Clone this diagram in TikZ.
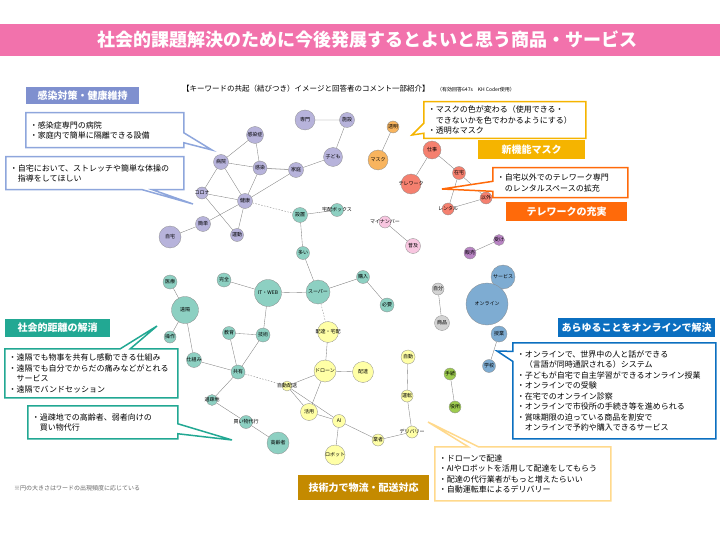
\documentclass[tikz,border=0pt]{standalone}
\usepackage{fontspec}
\setmainfont{Noto Sans CJK JP}
\usetikzlibrary{shapes.callouts}

\definecolor{titlepink}{HTML}{F272AC}
\definecolor{covidblue}{HTML}{7F90CF}
\definecolor{covidline}{HTML}{8EA6DC}
\definecolor{socteal}{HTML}{22A893}
\definecolor{maskgold}{HTML}{F5B400}
\definecolor{teleorange}{HTML}{FF6A0A}
\definecolor{onlineblue}{HTML}{0B6FC0}
\definecolor{techgold}{HTML}{C48A00}
\definecolor{delivline}{HTML}{FFD98C}
% keyword group fills
\definecolor{lavnd}{HTML}{B7B3DB}
\definecolor{tealfill}{HTML}{8DD0C2}
\definecolor{ylw}{HTML}{FFFFA6}
\definecolor{orng}{HTML}{F8B45E}
\definecolor{slmn}{HTML}{F5806F}
\definecolor{pnk}{HTML}{F8C6E0}
\definecolor{mgnt}{HTML}{B984C4}
\definecolor{lgry}{HTML}{D3D3D3}
\definecolor{blu}{HTML}{7EACD2}
\definecolor{grn}{HTML}{9DCB4E}

\newcommand{\kwl}[1]{\makebox[0pt]{#1}}

\begin{document}
\begin{tikzpicture}[x=1pt, y=-1pt,
  kw/.style={circle, draw=black!45, line width=0.3pt, inner sep=0pt, minimum size=#1, font=\fontsize{5}{5}\selectfont},
  link/.style={draw=black!50, line width=0.35pt},
  weaklink/.style={link, dash pattern=on 1.5pt off 1.5pt},
  hdbox/.style={rectangle, fill=#1, text=white, anchor=north west, inner sep=0pt, font=\bfseries\fontsize{10}{12}\selectfont},
  cbox/.style={rectangle callout, draw=#1, fill=white, line width=1.5pt, callout pointer width=10pt, anchor=north west, align=left, inner sep=4pt, font=\fontsize{8}{10.5}\selectfont}]
  \useasboundingbox (0,0) rectangle (720,540);

  % Title bar
  \fill[titlepink] (0,24) rectangle (720,56);
  \node[text=white, font=\bfseries\fontsize{18}{20}\selectfont] (title) at (367,40) {社会的課題解決のために今後発展するとよいと思う商品・サービス};
  \node[anchor=west, font=\fontsize{7.5}{9}\selectfont, inner sep=0pt] (subhead) at (182,89) {【キーワードの共起（結びつき）イメージと回答者のコメント一部紹介】};
  \node[anchor=west, font=\fontsize{5}{6}\selectfont, inner sep=0pt] (subnote) at (437,89.5) {（有効回答647s　KH Coder使用）};
  \node[anchor=west, text=black!60, font=\fontsize{6}{7}\selectfont, inner sep=0pt] (footnote) at (14,488) {※円の大きさはワードの出現頻度に応じている};

  % Network: infection / health (lavender)
  \node[kw=17pt, fill=lavnd] (kansensho) at (255,135) {\kwl{感染症}};
  \node[kw=15pt, fill=lavnd] (byoin) at (221,162) {\kwl{病院}};
  \node[kw=14pt, fill=lavnd] (kansen) at (260,168) {\kwl{感染}};
  \node[kw=15pt, fill=lavnd] (katei) at (296,170) {\kwl{家庭}};
  \node[kw=12pt, fill=lavnd] (corona) at (202,193) {\kwl{コロナ}};
  \node[kw=15pt, fill=lavnd] (kenko) at (245,201) {\kwl{健康}};
  \node[kw=15pt, fill=lavnd] (kantan) at (203,224) {\kwl{簡単}};
  \node[kw=22pt, fill=lavnd] (jitaku) at (170,237) {\kwl{自宅}};
  \node[kw=13pt, fill=lavnd] (undo) at (237,235) {\kwl{運動}};
  \node[kw=20pt, fill=lavnd] (senmon) at (305,120) {\kwl{専門}};
  \node[kw=15pt, fill=lavnd] (shisetsu) at (347,120) {\kwl{施設}};
  \node[kw=19pt, fill=lavnd] (kodomo) at (333,157) {\kwl{子ども}};

  % Network: distance (teal)
  \node[kw=15pt, fill=tealfill] (setchi) at (300,215) {\kwl{設置}};
  \node[kw=13pt, fill=tealfill] (takuhai) at (337,210) {\kwl{宅配ボックス}};
  \node[kw=13pt, fill=tealfill] (oi) at (303,253) {\kwl{多い}};
  \node[kw=14pt, fill=tealfill] (iryo) at (170,282) {\kwl{医療}};
  \node[kw=27pt, fill=tealfill] (enkaku) at (185,310) {\kwl{遠隔}};
  \node[kw=12pt, fill=tealfill] (sosa) at (170,337) {\kwl{操作}};
  \node[kw=14pt, fill=tealfill] (kanzen) at (224,280) {\kwl{完全}};
  \node[kw=27pt, fill=tealfill] (itweb) at (268,293) {\kwl{IT・WEB}};
  \node[kw=24pt, fill=tealfill] (super) at (318,292) {\kwl{スーパー}};
  \node[kw=13pt, fill=tealfill] (konyu) at (363,277) {\kwl{購入}};
  \node[kw=14pt, fill=tealfill] (hitsuyo) at (387,305) {\kwl{必要}};
  \node[kw=13pt, fill=tealfill] (kyoiku) at (229,333) {\kwl{教育}};
  \node[kw=14pt, fill=tealfill] (gijutsu) at (263,335) {\kwl{技術}};
  \node[kw=15pt, fill=tealfill] (shikumi) at (194,360) {\kwl{仕組み}};
  \node[kw=14pt, fill=tealfill] (kyoyu) at (238,372) {\kwl{共有}};
  \node[kw=11pt, fill=tealfill] (kaso) at (212,400) {\kwl{過疎地}};
  \node[kw=13pt, fill=tealfill] (kaimono) at (246,422) {\kwl{買い物代行}};
  \node[kw=22pt, fill=tealfill] (koreisha) at (278,443) {\kwl{高齢者}};

  % Network: delivery (yellow)
  \node[kw=21pt, fill=ylw] (haitaku) at (328,332) {\kwl{配達・宅配}};
  \node[kw=22pt, fill=ylw] (drone) at (325,371) {\kwl{ドローン}};
  \node[kw=21pt, fill=ylw] (haitatsu) at (363,372) {\kwl{配達}};
  \node[kw=10pt, fill=ylw] (jidohaiso) at (287,386) {\kwl{自動配送}};
  \node[kw=17pt, fill=ylw] (katsuyo) at (309,412) {\kwl{活用}};
  \node[kw=13pt, fill=ylw] (ai) at (339,421) {\kwl{AI}};
  \node[kw=20pt, fill=ylw] (robot) at (335,455) {\kwl{ロボット}};
  \node[kw=12pt, fill=ylw] (gyosha) at (378,440) {\kwl{業者}};
  \node[kw=14pt, fill=ylw] (jido) at (408,357) {\kwl{自動}};
  \node[kw=12pt, fill=ylw] (unten) at (407,396) {\kwl{運転}};
  \node[kw=12pt, fill=ylw] (delivery) at (412,432) {\kwl{デリバリー}};

  % Network: small groups
  \node[kw=12pt, fill=orng] (tomei) at (393,127) {\kwl{透明}};
  \node[kw=20pt, fill=orng] (mask) at (378,160) {\kwl{マスク}};
  \node[kw=18pt, fill=slmn] (shigoto) at (432,150) {\kwl{仕事}};
  \node[kw=20pt, fill=slmn] (telework) at (411,184) {\kwl{テレワーク}};
  \node[kw=13pt, fill=slmn] (zaitaku) at (459,173) {\kwl{在宅}};
  \node[kw=12pt, fill=slmn] (igai) at (486,198) {\kwl{以外}};
  \node[kw=12pt, fill=slmn] (rental) at (448,209) {\kwl{レンタル}};
  \node[kw=12pt, fill=pnk] (mynumber) at (385,222) {\kwl{マイナンバー}};
  \node[kw=15pt, fill=pnk] (fukyu) at (413,246) {\kwl{普及}};
  \node[kw=12pt, fill=mgnt] (hanbai) at (470,253) {\kwl{販売}};
  \node[kw=11pt, fill=mgnt] (uketori) at (499,240) {\kwl{受け}};
  \node[kw=12pt, fill=lgry] (jibun) at (438,289) {\kwl{自分}};
  \node[kw=15pt, fill=lgry] (shohin) at (442,323) {\kwl{商品}};
  \node[kw=24pt, fill=blu] (service) at (503,277) {\kwl{サービス}};
  \node[kw=42pt, fill=blu] (online) at (487,304) {\kwl{オンライン}};
  \node[kw=16pt, fill=blu] (jugyo) at (499,334) {\kwl{授業}};
  \node[kw=13pt, fill=blu] (gakko) at (489,366) {\kwl{学校}};
  \node[kw=12pt, fill=grn] (tetsuzuki) at (450,374) {\kwl{手続}};
  \node[kw=12pt, fill=grn] (yakusho) at (455,407) {\kwl{役所}};

  % co-occurrence links
  \draw[link] (kansensho) -- (byoin) (kansensho) -- (kansen) (byoin) -- (kansen)
    (byoin) -- (corona) (byoin) -- (kenko) (kansen) -- (kenko) (katei) -- (kenko)
    (katei) -- (kodomo) (kodomo) -- (shisetsu) (senmon) -- (shisetsu)
    (corona) -- (kenko) (corona) -- (undo) (kenko) -- (kantan) (kenko) -- (undo)
    (kantan) -- (jitaku);
  \draw[link, line width=0.8pt, draw=black!35] (kansen) -- (katei);
  \draw[link] (setchi) -- (takuhai) (setchi) -- (oi) (oi) -- (super) (super) -- (itweb)
    (super) -- (konyu) (konyu) -- (hitsuyo) (itweb) -- (kanzen) (itweb) -- (gijutsu)
    (gijutsu) -- (kyoiku) (gijutsu) -- (kyoyu) (kyoiku) -- (kyoyu) (iryo) -- (enkaku)
    (enkaku) -- (sosa) (enkaku) -- (shikumi) (shikumi) -- (kyoyu) (kyoyu) -- (kaso)
    (kaso) -- (kaimono) (kaimono) -- (koreisha);
  \draw[link] (haitaku) -- (drone) (drone) -- (haitatsu) (drone) -- (jidohaiso)
    (drone) -- (katsuyo) (jidohaiso) -- (katsuyo) (jidohaiso) -- (ai) (katsuyo) -- (ai)
    (ai) -- (robot) (ai) -- (gyosha) (gyosha) -- (delivery) (delivery) -- (unten)
    (unten) -- (jido);
  \draw[link] (tomei) -- (mask) (shigoto) -- (telework) (shigoto) -- (zaitaku)
    (zaitaku) -- (rental) (zaitaku) -- (igai) (rental) -- (igai) (mynumber) -- (fukyu)
    (hanbai) -- (uketori) (jibun) -- (shohin) (jugyo) -- (gakko) (tetsuzuki) -- (yakusho);
  \draw[weaklink] (kenko) -- (setchi) (super) -- (haitaku) (kyoyu) -- (jidohaiso);

  % pointer tips of the comment boxes
  \coordinate (tipA) at (212,150);
  \coordinate (tipB) at (193,204);
  \coordinate (tipC) at (157,326);
  \coordinate (tipD) at (232,440);
  \coordinate (tipMask) at (412,135);
  \coordinate (tipTele) at (442,189);
  \coordinate (tipOnline) at (497,351);
  \coordinate (tipDeliv) at (428,422);

  % Left: health and distance
  \node[hdbox=covidblue, minimum width=113pt, minimum height=17pt] (hdCovid) at (26,87) {感染対策・健康維持};
  \node[cbox=covidline, text width=150pt, minimum height=35pt, callout absolute pointer={(tipA)}] (cbA) at (25,112)
    {・感染症専門の病院\\・家庭内で簡単に隔離できる設備};
  \node[cbox=covidline, text width=170pt, minimum height=33pt, callout absolute pointer={(tipB)}] (cbB) at (5,156)
    {・自宅において、ストレッチや簡単な体操の\\　指導をしてほしい};
  \node[hdbox=socteal, minimum width=105pt, minimum height=18pt] (hdSocial) at (5,319) {社会的距離の解消};
  \node[cbox=socteal, text width=165pt, minimum height=49pt, callout absolute pointer={(tipC)}] (cbC) at (4,348)
    {・遠隔でも物事を共有し感動できる仕組み\\・遠隔でも自分でからだの痛みなどがとれる\\　サービス\\・遠隔でバンドセッション};
  \node[cbox=socteal, text width=142pt, minimum height=33pt, callout absolute pointer={(tipD)}] (cbD) at (27,405)
    {・過疎地での高齢者、弱者向けの\\　買い物代行};

  % Right: mask, telework, online
  \node[cbox=maskgold, text width=154pt, minimum height=34pt, callout absolute pointer={(tipMask)}] (cbMask) at (423,101)
    {・マスクの色が変わる（使用できる・\\　できないかを色でわかるようにする）\\・透明なマスク};
  \node[hdbox=maskgold, minimum width=107pt, minimum height=19pt] (hdMask) at (478,140) {新機能マスク};
  \node[cbox=teleorange, text width=127pt, minimum height=30pt, callout absolute pointer={(tipTele)}] (cbTele) at (492,167)
    {・自宅以外でのテレワーク専門\\　のレンタルスペースの拡充};
  \node[hdbox=teleorange, minimum width=121pt, minimum height=19pt] (hdTele) at (506,202) {テレワークの充実};
  \node[hdbox=onlineblue, minimum width=157pt, minimum height=19pt] (hdOnline) at (558,318) {あらゆることをオンラインで解決};
  \node[cbox=onlineblue, text width=195pt, minimum height=96pt, callout absolute pointer={(tipOnline)}] (cbOnline) at (512,342)
    {・オンラインで、世界中の人と話ができる\\　（言語が同時通訳される）システム\\・子どもが自宅で自主学習ができるオンライン授業\\・オンラインでの受験\\・在宅でのオンライン診察\\・オンラインで市役所の手続き等を進められる\\・賞味期限の迫っている商品を割安で\\　オンラインで予約や購入できるサービス};

  % Bottom: delivery
  \node[cbox=delivline, text width=168pt, minimum height=54pt, callout absolute pointer={(tipDeliv)}] (cbDeliv) at (434,446)
    {・ドローンで配達\\・AIやロボットを活用して配達をしてもらう\\・配達の代行業者がもっと増えたらいい\\・自動運転車によるデリバリー};
  \node[hdbox=techgold, minimum width=131pt, minimum height=25pt] (hdTech) at (298,475) {技術力で物流・配送対応};
\end{tikzpicture}
\end{document}
